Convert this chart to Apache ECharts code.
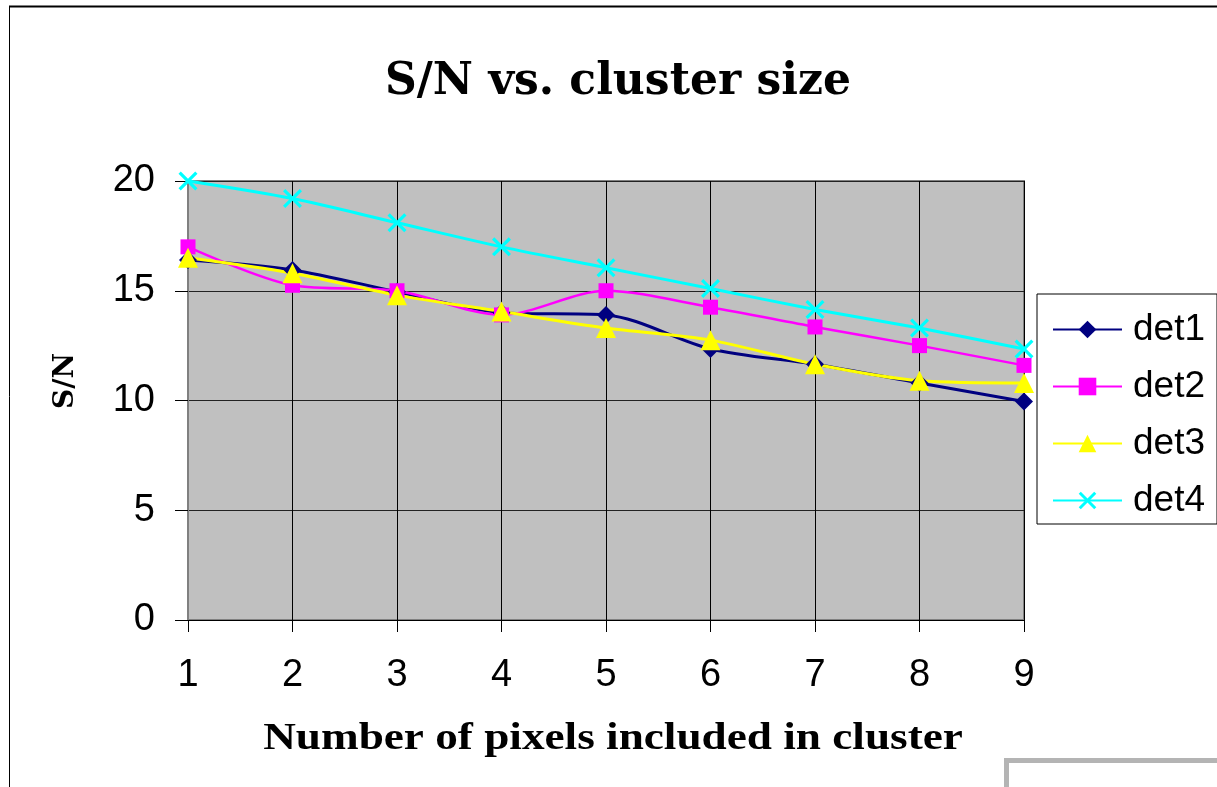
<!DOCTYPE html>
<html><head><meta charset="utf-8">
<script src="https://cdn.jsdelivr.net/npm/echarts@6/dist/echarts.min.js"></script>
<style>html,body{margin:0;padding:0;background:#fff}#c{width:1217px;height:787px}</style>
</head><body><div id="c"></div>
<script>
const categories = ['1','2','3','4','5','6','7','8','9'];
const det1 = [16.4, 15.95, 14.95, 14.0, 13.9, 12.35, 11.65, 10.8, 9.95];
const det2 = [17.0, 15.25, 15.0, 13.9, 15.0, 14.25, 13.35, 12.5, 11.6];
const det3 = [16.5, 15.8, 14.8, 14.05, 13.3, 12.75, 11.65, 10.9, 10.8];
const det4 = [20.0, 19.2, 18.1, 17.0, 16.05, 15.1, 14.15, 13.3, 12.35];
const seriesNames = ['det1','det2','det3','det4'];
const titleText = 'S/N vs. cluster size';
const xName = 'Number of pixels included in cluster';
const yName = 'S/N';

const crossPath = 'path://M0,1.2L1.2,0L5,3.8L8.8,0L10,1.2L6.2,5L10,8.8L8.8,10L5,6.2L1.2,10L0,8.8L3.8,5Z';
const sans = 'Liberation Sans, Arial, sans-serif';

const chart = echarts.init(document.getElementById('c'), null, {renderer:'canvas'});
function mk(name, data, color, width, symbol, size){
  return {name, type:'line', data, smooth:0.3, symbol, symbolSize:size, showSymbol:true,
    lineStyle:{color, width}, itemStyle:{color, borderWidth:0}, emphasis:{disabled:true}, animation:false};
}
chart.setOption({
  animation:false,
  backgroundColor:'#fff',
  title:{text:titleText, left:385, top:56, padding:[5,0,5,0],
    textStyle:{fontFamily:'DejaVu Serif', fontWeight:'bold', fontSize:44, color:'#000'}},
  grid:{left:188, right:193, top:181, bottom:167, show:true, backgroundColor:'#c0c0c0', borderColor:'#808080', borderWidth:2},
  legend:{orient:'vertical', left:1037, top:294, data:seriesNames,
    borderColor:'#000', borderWidth:1, padding:[17,12,5,15], itemGap:20,
    itemWidth:69, itemHeight:22,
    textStyle:{fontFamily:sans, fontSize:37, color:'#000', padding:[0,0,0,6]}},
  xAxis:{type:'category', data:categories, boundaryGap:false,
    axisLine:{show:true, lineStyle:{color:'#000', width:1}},
    axisTick:{show:true, length:12, lineStyle:{color:'#000'}, alignWithLabel:true},
    axisLabel:{fontFamily:sans, fontSize:38, color:'#000', margin:37},
    splitLine:{show:true, lineStyle:{color:'#000', width:1}}},
  yAxis:{type:'value', min:0, max:20, interval:5,
    axisLine:{show:true, lineStyle:{color:'#808080', width:2}},
    axisTick:{show:true, length:13, lineStyle:{color:'#000'}},
    axisLabel:{fontFamily:sans, fontSize:38, color:'#000', margin:33},
    splitLine:{show:true, lineStyle:{color:'#222', width:1.2}}},
  graphic:[
    {type:'line', shape:{x1:9.5, y1:6, x2:9.5, y2:787}, style:{stroke:'#000', lineWidth:1}, silent:true},
    {type:'line', shape:{x1:9, y1:6.5, x2:1217, y2:6.5}, style:{stroke:'#000', lineWidth:2}, silent:true},
    {type:'rect', shape:{x:1006.5, y:760.5, width:300, height:100}, style:{fill:'#fff', stroke:'#b4b4b4', lineWidth:5}, silent:true},
    {type:'text', x:66, y:381, rotation:Math.PI/2, silent:true,
      style:{text:yName, align:'center', verticalAlign:'middle', fontFamily:'DejaVu Serif', fontWeight:'bold', fontSize:28, fill:'#000'}},
    {type:'text', x:613, y:739, scaleX:1.19, silent:true,
      style:{text:xName, align:'center', verticalAlign:'middle', fontFamily:'Liberation Serif', fontWeight:'bold', fontSize:38, fill:'#000'}}
  ],
  series:[
    mk('det1', det1, '#000080', 3, 'diamond', 18),
    mk('det2', det2, '#ff00ff', 2.5, 'rect', 15),
    mk('det3', det3, '#ffff00', 3, 'triangle', 20),
    mk('det4', det4, '#00ffff', 3, crossPath, 19)
  ]
});
</script></body></html>
